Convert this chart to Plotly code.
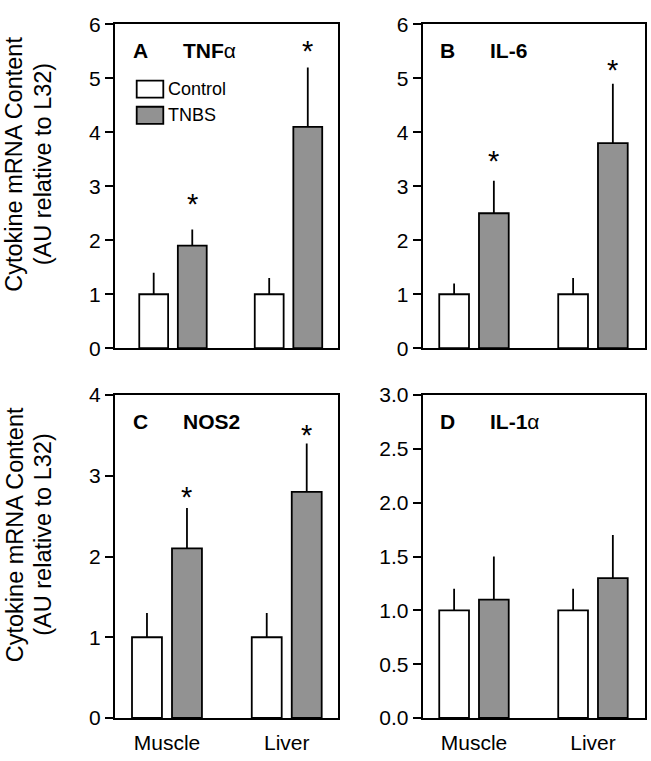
import plotly.graph_objects as go

W, H = 651, 761

categories = ["Muscle", "Liver"]

# Panel A: TNF-alpha
tnf_control = [1.0, 1.0]
tnf_control_err = [0.4, 0.3]
tnf_tnbs = [1.9, 4.1]
tnf_tnbs_err = [0.3, 1.1]
tnf_star = [2.82, 5.66]

# Panel B: IL-6
il6_control = [1.0, 1.0]
il6_control_err = [0.2, 0.3]
il6_tnbs = [2.5, 3.8]
il6_tnbs_err = [0.6, 1.1]
il6_star = [3.62, 5.30]

# Panel C: NOS2
nos2_control = [1.0, 1.0]
nos2_control_err = [0.3, 0.3]
nos2_tnbs = [2.1, 2.8]
nos2_tnbs_err = [0.5, 0.6]
nos2_star = [2.84, 3.60]

# Panel D: IL-1alpha
il1a_control = [1.0, 1.0]
il1a_control_err = [0.2, 0.2]
il1a_tnbs = [1.1, 1.3]
il1a_tnbs_err = [0.4, 0.4]
il1a_star = [None, None]

y_ticks_ab = [0, 1, 2, 3, 4, 5, 6]
y_ticks_c = [0, 1, 2, 3, 4]
y_ticks_d = [0.0, 0.5, 1.0, 1.5, 2.0, 2.5, 3.0]

FONT = "Liberation Sans, Arial, sans-serif"
GRAY = "#929292"

def px_x(p):
    return p / W

def px_y(p):
    return 1 - p / H

panels = [
    dict(ax="", ctrl=tnf_control, ce=tnf_control_err, tn=tnf_tnbs, te=tnf_tnbs_err, star=tnf_star,
         ymax=6, ticks=y_ticks_ab, fmt=None, dom_x=(115, 338), dom_y=(12.7, 346.7), xr=[-0.502, 1.4286],
         letter="A", name="TNF", greek=True, showx=False),
    dict(ax="2", ctrl=il6_control, ce=il6_control_err, tn=il6_tnbs, te=il6_tnbs_err, star=il6_star,
         ymax=6, ticks=y_ticks_ab, fmt=None, dom_x=(422.7, 644.5), dom_y=(12.7, 346.7), xr=[-0.431, 1.433],
         letter="B", name="IL-6", greek=False, showx=False),
    dict(ax="3", ctrl=nos2_control, ce=nos2_control_err, tn=nos2_tnbs, te=nos2_tnbs_err, star=nos2_star,
         ymax=4, ticks=y_ticks_c, fmt=None, dom_x=(115, 337.5), dom_y=(395, 728), xr=[-0.434, 1.424],
         letter="C", name="NOS2", greek=False, showx=True),
    dict(ax="4", ctrl=il1a_control, ce=il1a_control_err, tn=il1a_tnbs, te=il1a_tnbs_err, star=il1a_star,
         ymax=3, ticks=y_ticks_d, fmt=".1f", dom_x=(422.7, 644.5), dom_y=(395, 728), xr=[-0.431, 1.433],
         letter="D", name="IL-1", greek=True, showx=True),
]

BAR_W = 0.25
OFF = 0.167

fig = go.Figure()
layout = dict(
    width=W, height=H, margin=dict(l=0, r=0, t=0, b=0),
    paper_bgcolor="white", plot_bgcolor="white", showlegend=False,
    barmode="overlay", font=dict(family=FONT, color="black"),
)
annotations = []
shapes = []

xpos = [0, 1]
for p in panels:
    xa = "x" + p["ax"]
    ya = "y" + p["ax"]
    for vals, errs, color, off in [(p["ctrl"], p["ce"], "white", -OFF), (p["tn"], p["te"], GRAY, OFF)]:
        fig.add_trace(go.Bar(
            x=xpos, y=vals, width=BAR_W, offset=off - BAR_W / 2,
            marker=dict(color=color, line=dict(color="black", width=1.8)),
            error_y=dict(type="data", symmetric=False, array=errs, arrayminus=[0, 0],
                         width=0, thickness=1.8, color="black"),
            xaxis=xa, yaxis=ya, hoverinfo="skip",
        ))
    for xi, sy in zip(xpos, p["star"]):
        if sy is None:
            continue
        annotations.append(dict(x=xi + OFF, y=sy, xref=xa, yref=ya, text="*", showarrow=False,
                                font=dict(size=29, family=FONT), xanchor="center", yanchor="middle",
                                yshift=-8))
    key = p["ax"]
    layout["xaxis" + key] = dict(
        domain=[px_x(p["dom_x"][0]), px_x(p["dom_x"][1])], range=p["xr"], anchor=ya,
        showline=True, linecolor="black", linewidth=2, mirror=True, ticks="",
        tickvals=xpos, ticktext=categories, showticklabels=p["showx"], showgrid=False,
        zeroline=False, tickfont=dict(size=21, family=FONT), ticklabelstandoff=5,
    )
    ydict = dict(
        domain=[px_y(p["dom_y"][1]), px_y(p["dom_y"][0])], range=[0, p["ymax"]], anchor=xa,
        showline=True, linecolor="black", linewidth=2, mirror=True, ticks="outside",
        ticklen=8, tickwidth=2, tickcolor="black", tickvals=p["ticks"], showgrid=False,
        zeroline=False, tickfont=dict(size=21, family=FONT),
    )
    if p["fmt"]:
        ydict["ticktext"] = [format(v, p["fmt"]) for v in p["ticks"]]
    layout["yaxis" + key] = ydict

    # panel labels
    lx = p["dom_x"][0] + 15.5
    ly = p["dom_y"][0] + 27.5
    annotations.append(dict(x=px_x(lx), y=px_y(ly), xref="paper", yref="paper", text="<b>" + p["letter"] + "</b>",
                            showarrow=False, xanchor="left", yanchor="middle", font=dict(size=21, family=FONT)))
    name_text = "<b>" + p["name"] + "</b>" + ("α" if p["greek"] else "")
    annotations.append(dict(x=px_x(lx + 50), y=px_y(ly), xref="paper", yref="paper", text=name_text,
                            showarrow=False, xanchor="left", yanchor="middle", font=dict(size=21, family=FONT)))

# y-axis titles (two lines each)
for cy in [157, 539]:
    for cx, line in [(14.5, "Cytokine mRNA Content"), (43, "(AU relative to L32)")]:
        annotations.append(dict(x=px_x(cx), y=px_y(cy), xref="paper", yref="paper",
                                text=line, textangle=-90,
                                showarrow=False, xanchor="center", yanchor="middle",
                                font=dict(size=23.5, family=FONT)))

# legend in panel A
for (y0, y1), color, label in [((70.7, 88.3), "white", "Control"), ((97.7, 115.3), GRAY, "TNBS")]:
    shapes.append(dict(type="rect", xref="paper", yref="paper", x0=px_x(136.7), x1=px_x(163.3),
                       y0=px_y(y1), y1=px_y(y0), fillcolor=color, line=dict(color="black", width=1.8)))
    annotations.append(dict(x=px_x(166), y=px_y((y0 + y1) / 2), xref="paper", yref="paper", text=label,
                            showarrow=False, xanchor="left", yanchor="middle", font=dict(size=18, family=FONT)))

layout["annotations"] = annotations
layout["shapes"] = shapes
fig.update_layout(**layout)
fig.write_html("out.html", config={"displayModeBar": False},
               post_script="document.body.style.margin='0';document.body.style.overflow='hidden';")
